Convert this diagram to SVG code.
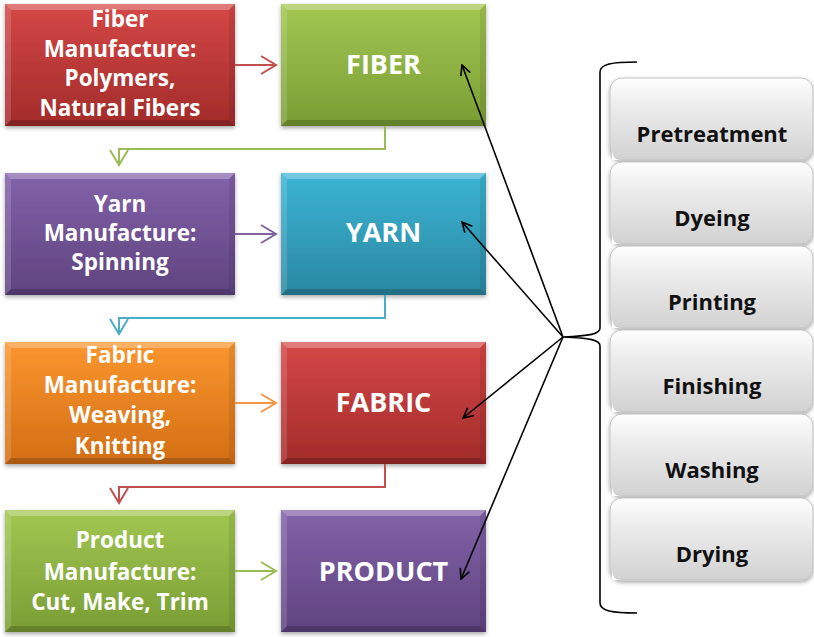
<svg xmlns="http://www.w3.org/2000/svg" width="814" height="637" viewBox="0 0 814 637">
<defs>
<style>
.lt{font-family:"Open Sans",Lato,"Liberation Sans",sans-serif;font-weight:bold;font-size:22.5px;fill:#fff;text-anchor:middle}
.bt{font-family:"Open Sans",Lato,"Liberation Sans",sans-serif;font-weight:bold;font-size:27px;fill:#fff;text-anchor:middle}
.gt{font-family:"Open Sans",Lato,"Liberation Sans",sans-serif;font-weight:bold;font-size:22px;fill:#111;text-anchor:middle}
.bl{fill:#fff;opacity:.28}
.bl2{fill:#fff;opacity:.14}
.bd{fill:#000;opacity:.18}
.bd2{fill:#000;opacity:.08}
.gb{fill:url(#gGray);stroke:#c4c4c4;stroke-width:1}
.conn{fill:none;stroke-width:2}
.blk{fill:none;stroke:#000;stroke-width:1.6}
</style>
<filter id="sh" x="-10%" y="-10%" width="120%" height="130%">
<feDropShadow dx="0" dy="2" stdDeviation="2" flood-color="#000" flood-opacity="0.35"/>
</filter>
<linearGradient id="gRed" x1="0" y1="0" x2="0" y2="1"><stop offset="0" stop-color="#d44746"/><stop offset="1" stop-color="#a22b2a"/></linearGradient>
<linearGradient id="gGreen" x1="0" y1="0" x2="0" y2="1"><stop offset="0" stop-color="#a2c752"/><stop offset="1" stop-color="#7a9d34"/></linearGradient>
<linearGradient id="gPurple" x1="0" y1="0" x2="0" y2="1"><stop offset="0" stop-color="#8262a9"/><stop offset="1" stop-color="#5f437f"/></linearGradient>
<linearGradient id="gCyan" x1="0" y1="0" x2="0" y2="1"><stop offset="0" stop-color="#3bb4d4"/><stop offset="1" stop-color="#2a88a2"/></linearGradient>
<linearGradient id="gOrange" x1="0" y1="0" x2="0" y2="1"><stop offset="0" stop-color="#fb962f"/><stop offset="1" stop-color="#d26e14"/></linearGradient>
<linearGradient id="gGray" x1="0" y1="0" x2="0" y2="1"><stop offset="0" stop-color="#fefefe"/><stop offset="0.35" stop-color="#ececec"/><stop offset="1" stop-color="#d2d2d2"/></linearGradient>
<g id="bevL">
<polygon class="bl" points="0,0 230,0 224,6 6,6"/>
<polygon class="bl2" points="0,0 6,6 6,116 0,122"/>
<polygon class="bd" points="0,122 230,122 224,116 6,116"/>
<polygon class="bd2" points="230,0 224,6 224,116 230,122"/>
</g>
<g id="bevR">
<polygon class="bl" points="0,0 205,0 199,6 6,6"/>
<polygon class="bl2" points="0,0 6,6 6,116 0,122"/>
<polygon class="bd" points="0,122 205,122 199,116 6,116"/>
<polygon class="bd2" points="205,0 199,6 199,116 205,122"/>
</g>
<g id="corner"><path d="M2,82 L2,72 Q2,82 12,82 Z" fill="#fff"/></g>
<marker id="mBlk" viewBox="0 0 12 12" refX="11" refY="6" markerWidth="12" markerHeight="12" markerUnits="userSpaceOnUse" orient="auto"><path d="M1,1 L11,6 L1,11" fill="none" stroke="#000" stroke-width="1.6"/></marker>
<marker id="mRed" viewBox="0 0 18 20" refX="16" refY="10" markerWidth="18" markerHeight="20" markerUnits="userSpaceOnUse" orient="auto"><path d="M1,1 L16,10 L1,19" fill="none" stroke="#c0504d" stroke-width="2"/></marker>
<marker id="mGreen" viewBox="0 0 18 20" refX="16" refY="10" markerWidth="18" markerHeight="20" markerUnits="userSpaceOnUse" orient="auto"><path d="M1,1 L16,10 L1,19" fill="none" stroke="#9bbb59" stroke-width="2"/></marker>
<marker id="mPurple" viewBox="0 0 18 20" refX="16" refY="10" markerWidth="18" markerHeight="20" markerUnits="userSpaceOnUse" orient="auto"><path d="M1,1 L16,10 L1,19" fill="none" stroke="#8064a2" stroke-width="2"/></marker>
<marker id="mCyan" viewBox="0 0 18 20" refX="16" refY="10" markerWidth="18" markerHeight="20" markerUnits="userSpaceOnUse" orient="auto"><path d="M1,1 L16,10 L1,19" fill="none" stroke="#4bacc6" stroke-width="2"/></marker>
<marker id="mOrange" viewBox="0 0 18 20" refX="16" refY="10" markerWidth="18" markerHeight="20" markerUnits="userSpaceOnUse" orient="auto"><path d="M1,1 L16,10 L1,19" fill="none" stroke="#f79646" stroke-width="2"/></marker>
</defs>
<rect width="814" height="637" fill="#fff"/>

<g id="fiber-manufacture" transform="translate(5,4)">
<rect width="230" height="122" fill="url(#gRed)" filter="url(#sh)"/><use href="#bevL"/>
<text class="lt"><tspan x="115" y="23">Fiber</tspan><tspan x="115" y="53">Manufacture:</tspan><tspan x="115" y="82">Polymers,</tspan><tspan x="115" y="112">Natural Fibers</tspan></text>
</g>
<g id="fiber" transform="translate(281,4)">
<rect width="205" height="122" fill="url(#gGreen)" filter="url(#sh)"/><use href="#bevR"/>
<text class="bt" x="102.5" y="70">FIBER</text>
</g>
<g id="yarn-manufacture" transform="translate(5,173)">
<rect width="230" height="122" fill="url(#gPurple)" filter="url(#sh)"/><use href="#bevL"/>
<text class="lt"><tspan x="115" y="39">Yarn</tspan><tspan x="115" y="68">Manufacture:</tspan><tspan x="115" y="97">Spinning</tspan></text>
</g>
<g id="yarn" transform="translate(281,173)">
<rect width="205" height="122" fill="url(#gCyan)" filter="url(#sh)"/><use href="#bevR"/>
<text class="bt" x="102.5" y="69">YARN</text>
</g>
<g id="fabric-manufacture" transform="translate(5,342)">
<rect width="230" height="122" fill="url(#gOrange)" filter="url(#sh)"/><use href="#bevL"/>
<text class="lt"><tspan x="115" y="21">Fabric</tspan><tspan x="115" y="51">Manufacture:</tspan><tspan x="115" y="81">Weaving,</tspan><tspan x="115" y="112">Knitting</tspan></text>
</g>
<g id="fabric" transform="translate(281,342)">
<rect width="205" height="122" fill="url(#gRed)" filter="url(#sh)"/><use href="#bevR"/>
<text class="bt" x="102.5" y="70">FABRIC</text>
</g>
<g id="product-manufacture" transform="translate(5,510)">
<rect width="230" height="122" fill="url(#gGreen)" filter="url(#sh)"/><use href="#bevL"/>
<text class="lt"><tspan x="115" y="38">Product</tspan><tspan x="115" y="70">Manufacture:</tspan><tspan x="115" y="100">Cut, Make, Trim</tspan></text>
</g>
<g id="product" transform="translate(281,510)">
<rect width="205" height="122" fill="url(#gPurple)" filter="url(#sh)"/><use href="#bevR"/>
<text class="bt" x="102.5" y="71">PRODUCT</text>
</g>

<g id="pretreatment" transform="translate(610,78)">
<rect class="gb" width="203" height="82" rx="12" filter="url(#sh)"/><use href="#corner"/>
<text class="gt" x="102" y="64">Pretreatment</text>
</g>
<g id="dyeing" transform="translate(610,162)">
<rect class="gb" width="203" height="82" rx="12" filter="url(#sh)"/><use href="#corner"/>
<text class="gt" x="102" y="64">Dyeing</text>
</g>
<g id="printing" transform="translate(610,246)">
<rect class="gb" width="203" height="82" rx="12" filter="url(#sh)"/><use href="#corner"/>
<text class="gt" x="102" y="64">Printing</text>
</g>
<g id="finishing" transform="translate(610,330)">
<rect class="gb" width="203" height="82" rx="12" filter="url(#sh)"/><use href="#corner"/>
<text class="gt" x="102" y="64">Finishing</text>
</g>
<g id="washing" transform="translate(610,414)">
<rect class="gb" width="203" height="82" rx="12" filter="url(#sh)"/><use href="#corner"/>
<text class="gt" x="102" y="64">Washing</text>
</g>
<g id="drying" transform="translate(610,498)">
<rect class="gb" width="203" height="82" rx="12" filter="url(#sh)"/><use href="#corner"/>
<text class="gt" x="102" y="64">Drying</text>
</g>

<g id="connectors">
<path class="conn" stroke="#c0504d" d="M235,65 L276,65" marker-end="url(#mRed)"/>
<path class="conn" stroke="#8064a2" d="M235,234 L276,234" marker-end="url(#mPurple)"/>
<path class="conn" stroke="#f79646" d="M235,403 L276,403" marker-end="url(#mOrange)"/>
<path class="conn" stroke="#9bbb59" d="M235,571 L276,571" marker-end="url(#mGreen)"/>
<path class="conn" stroke="#9bbb59" d="M385,126 L385,149 L119,149 L119,165" marker-end="url(#mGreen)"/>
<path class="conn" stroke="#4bacc6" d="M385,295 L385,318 L119,318 L119,334" marker-end="url(#mCyan)"/>
<path class="conn" stroke="#c0504d" d="M385,464 L385,487 L119,487 L119,503" marker-end="url(#mRed)"/>
<path class="blk" d="M637,62 C612,62 600,64 600,72 L600,328 C600,334 590,336 563,337 C590,338 600,340 600,346 L600,603 C600,611 612,613 637,613"/>
<path class="blk" d="M563,337 L462,65" marker-end="url(#mBlk)"/>
<path class="blk" d="M563,337 L462,222" marker-end="url(#mBlk)"/>
<path class="blk" d="M563,337 L463,418" marker-end="url(#mBlk)"/>
<path class="blk" d="M563,337 L461,579" marker-end="url(#mBlk)"/>
</g>
</svg>
